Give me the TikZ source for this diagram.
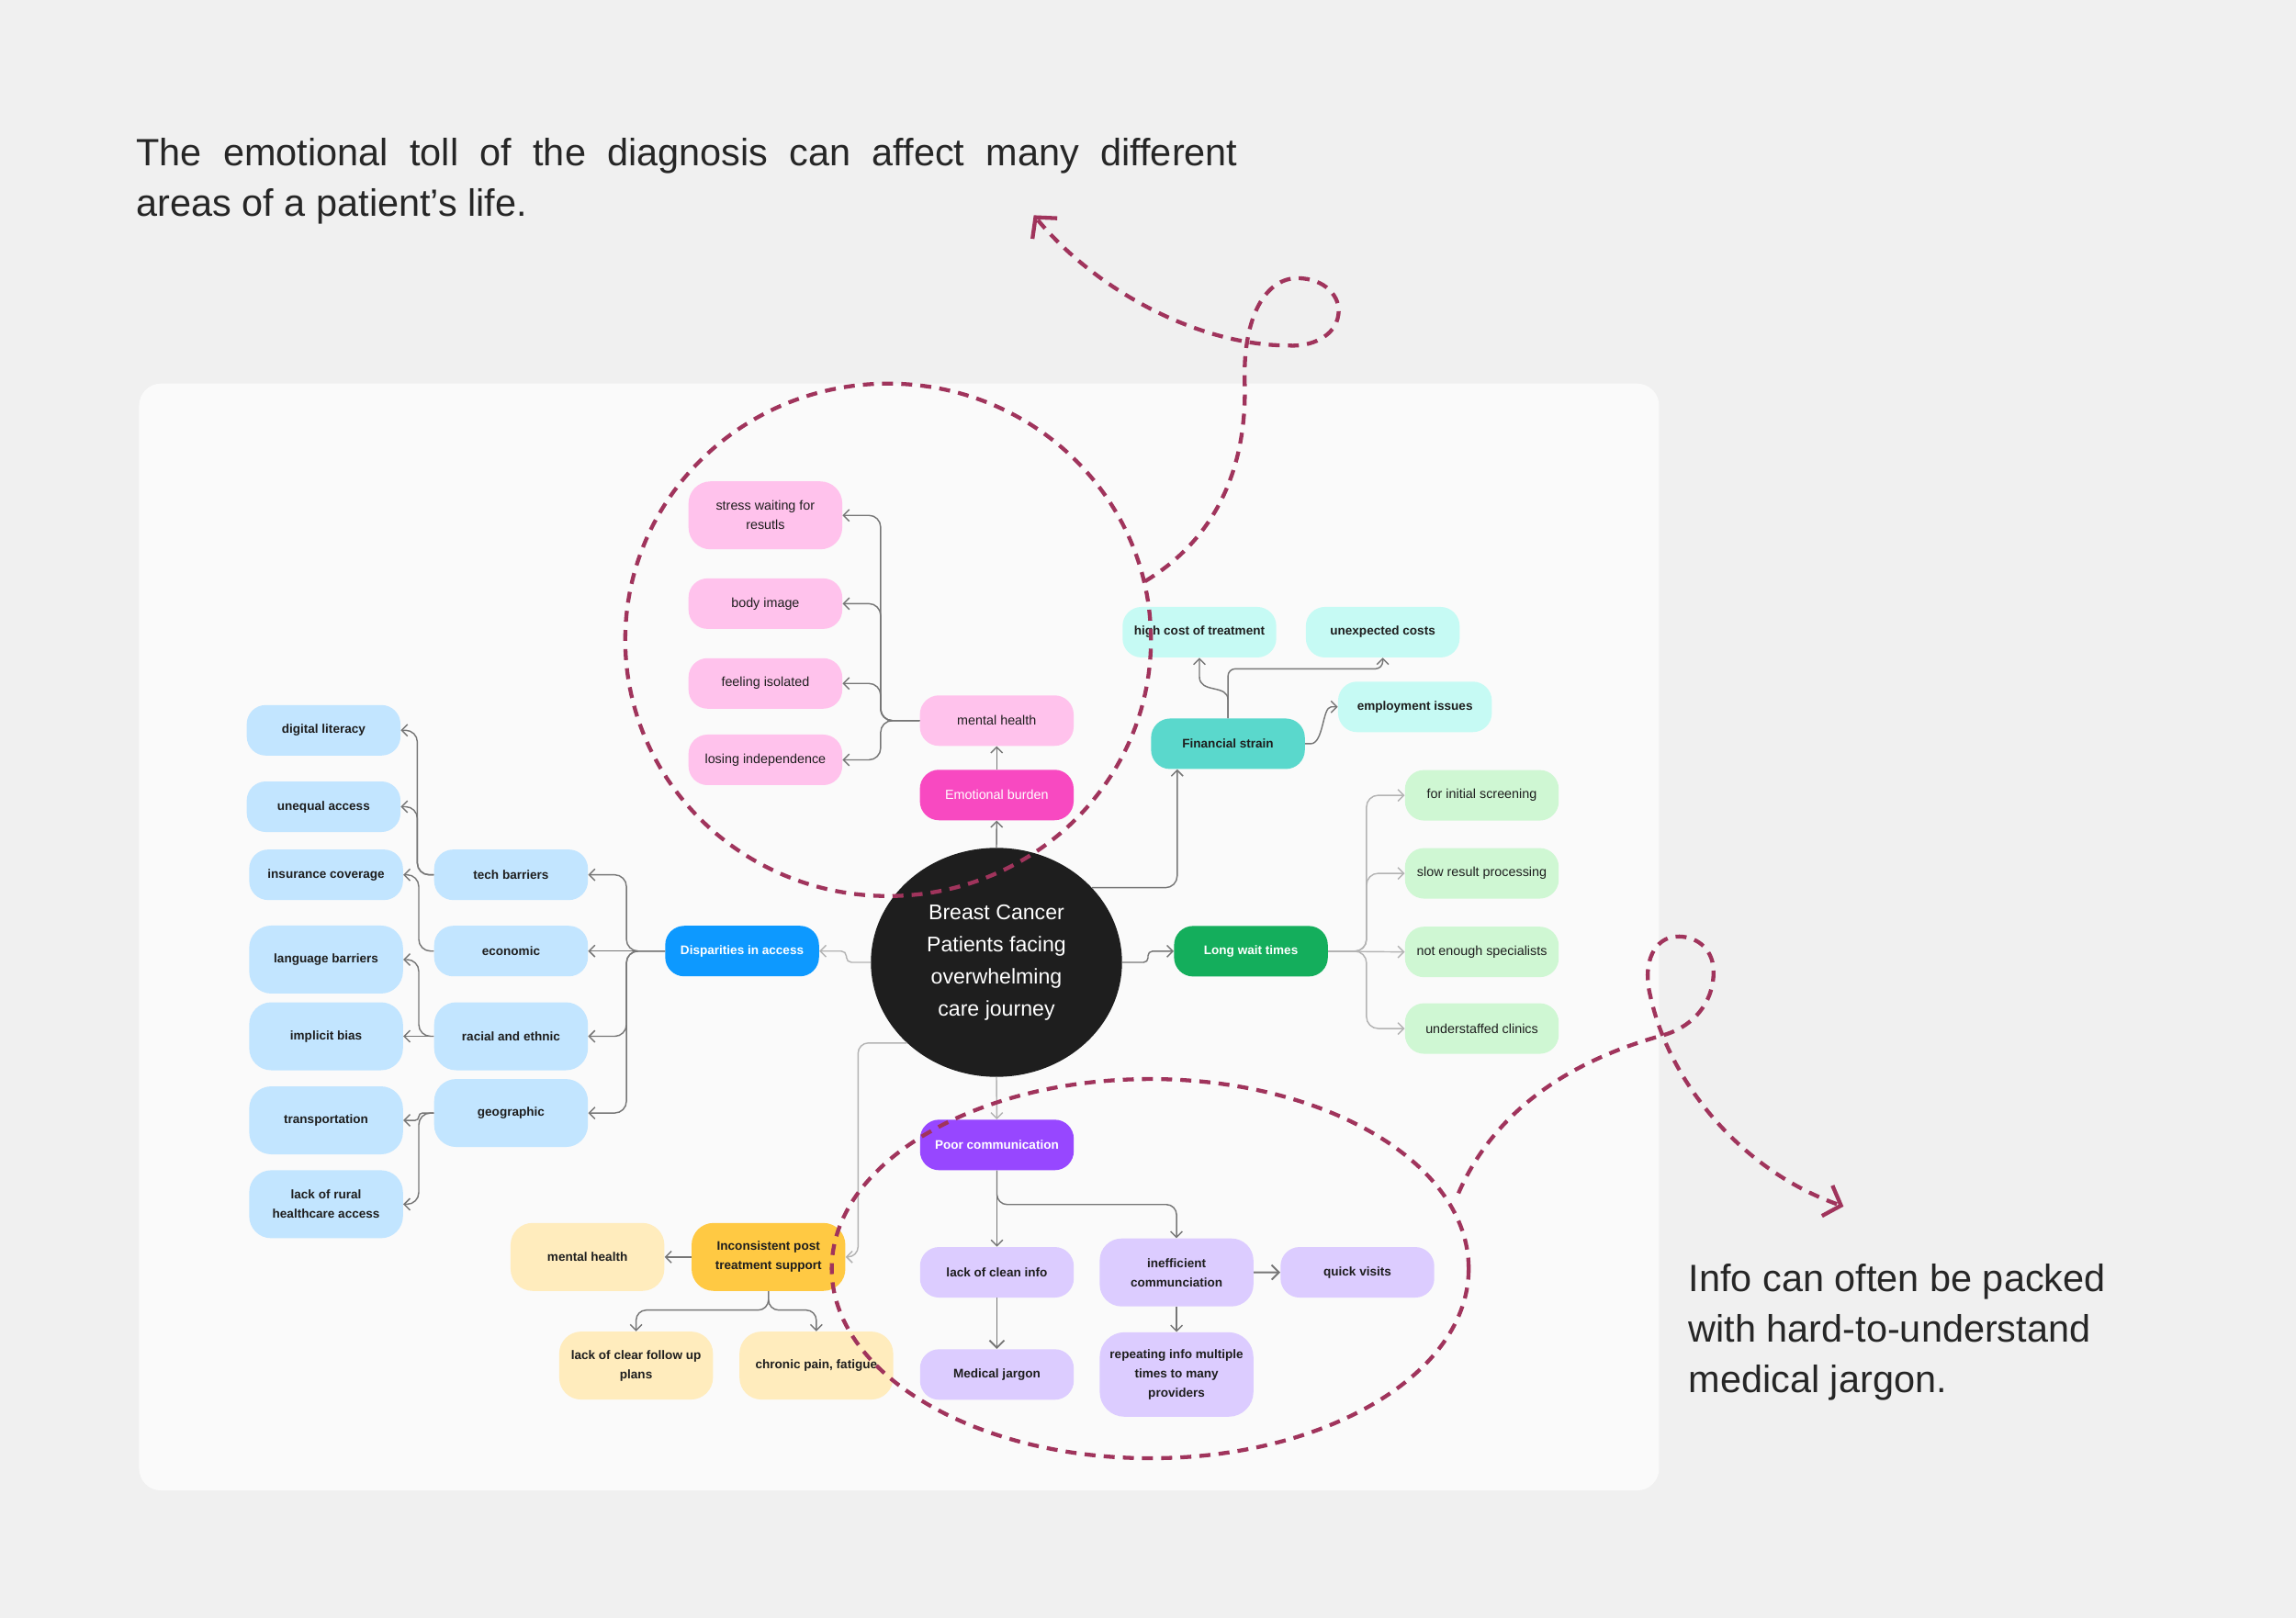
\documentclass[tikz,border=0pt]{standalone}
\usepackage{fontspec}
\setmainfont{Liberation Sans}
\usetikzlibrary{arrows.meta,shapes.geometric,calc}
\definecolor{pageBg}{HTML}{F0F0F0}
\definecolor{panelBg}{HTML}{FAFAFA}
\definecolor{ink}{HTML}{1E1E1E}
\definecolor{noteInk}{HTML}{262626}
\definecolor{lineDark}{HTML}{767676}
\definecolor{lineLight}{HTML}{B3B3B3}
\definecolor{annoRed}{HTML}{A0345C}
\definecolor{pinkL}{HTML}{FFC2EC}
\definecolor{magBox}{HTML}{F849C1}
\definecolor{cyanL}{HTML}{C6FAF4}
\definecolor{tealBox}{HTML}{5AD8CC}
\definecolor{greenD}{HTML}{14AE5C}
\definecolor{greenL}{HTML}{CFF7D3}
\definecolor{blueD}{HTML}{0D99FF}
\definecolor{blueL}{HTML}{C2E5FF}
\definecolor{purpD}{HTML}{9747FF}
\definecolor{purpL}{HTML}{DCCCFF}
\definecolor{yelD}{HTML}{FFC943}
\definecolor{yelL}{HTML}{FFECBD}
\definecolor{coreBg}{HTML}{1E1E1E}
\tikzset{
  box/.style={rounded corners=13pt, minimum width=105pt, minimum height=34.5pt, align=center, inner sep=2pt, text=ink},
  tall/.style={minimum height=46.4pt, rounded corners=15pt},
  regTxt/.style={font=\fontsize{9}{13.2}\selectfont},
  boldTxt/.style={font=\fontsize{8.5}{13.2}\selectfont\bfseries},
  nPink/.style={box, fill=pinkL, regTxt},
  nMag/.style={box, fill=magBox, regTxt, text=white},
  nCyan/.style={box, fill=cyanL, boldTxt},
  nTeal/.style={box, fill=tealBox, boldTxt},
  nGreenD/.style={box, fill=greenD, boldTxt, text=white},
  nGreenL/.style={box, fill=greenL, regTxt},
  nBlueD/.style={box, fill=blueD, boldTxt, text=white},
  nBlueL/.style={box, fill=blueL, boldTxt},
  nPurpD/.style={box, fill=purpD, boldTxt, text=white},
  nPurpL/.style={box, fill=purpL, boldTxt},
  nYelD/.style={box, fill=yelD, boldTxt},
  nYelL/.style={box, fill=yelL, boldTxt},
  link/.style={draw=lineDark, line width=0.9pt, -{Straight Barb[length=4pt,width=8pt]}},
  linkL/.style={link, draw=lineLight},
  linkB/.style={link, line width=1.2pt, -{Straight Barb[length=5pt,width=10pt]}},
  anno/.style={draw=annoRed, line width=2.7pt, dash pattern=on 7.5pt off 5.6pt},
  annoTip/.style={-{Straight Barb[length=10pt,width=22pt]}},
  note/.style={anchor=base west, inner sep=0pt, text=noteInk, font=\fontsize{26}{35}\selectfont}
}
\begin{document}
\begin{tikzpicture}[x=1pt,y=-1pt]
\fill[pageBg] (0,0) rectangle (1568,1105);
\useasboundingbox (0,0) rectangle (1568,1105);
\fill[panelBg, rounded corners=15pt] (95,262) rectangle (1133,1018);

% notes
\node[note] (t1) at (93,113) {\makebox[752pt][s]{The emotional toll of the diagnosis can affect many different}};
\node[note] (t2) at (93,148) {areas of a patient’s life.};
\node[note] (b1) at (1153,882) {Info can often be packed};
\node[note] (b2) at (1153,916.5) {with hard-to-understand};
\node[note] (b3) at (1153,951) {medical jargon.};

% center
\node[ellipse, fill=coreBg, minimum width=171.5pt, minimum height=156.4pt, inner sep=0pt, text=white, align=center, font=\fontsize{14.5}{22}\selectfont] (core) at (680.5,657.3) {Breast Cancer\\Patients facing\\overwhelming\\care journey};

% emotional
\node[nPink, tall] (stress) at (522.7,352) {stress waiting for\\resutls};
\node[nPink] (body) at (522.7,412.3) {body image};
\node[nPink] (isol) at (522.7,466.8) {feeling isolated};
\node[nPink] (indep) at (522.7,519) {losing independence};
\node[nPink] (mh) at (680.7,492.2) {mental health};
\node[nMag] (eb) at (680.7,543) {Emotional burden};

% financial
\node[nCyan] (hicost) at (819.1,431.8) {high cost of treatment};
\node[nCyan] (unexp) at (944.3,431.8) {unexpected costs};
\node[nCyan] (employ) at (966.3,482.8) {employment issues};
\node[nTeal] (fs) at (838.6,508) {Financial strain};

% wait times
\node[nGreenD] (lwt) at (854.3,649.7) {Long wait times};
\node[nGreenL] (g1) at (1012,543.2) {for initial screening};
\node[nGreenL] (g2) at (1012,596.5) {slow result processing};
\node[nGreenL] (g3) at (1012,650.2) {not enough specialists};
\node[nGreenL] (g4) at (1012,702.5) {understaffed clinics};

% disparities
\node[nBlueD] (disp) at (506.8,649.6) {Disparities in access};
\node[nBlueL] (tech) at (349,597.5) {tech barriers};
\node[nBlueL] (econ) at (349,649.6) {economic};
\node[nBlueL, tall] (racial) at (349,707.8) {racial and ethnic};
\node[nBlueL, tall] (geo) at (349,760.2) {geographic};
\node[nBlueL] (digital) at (221,498.8) {digital literacy};
\node[nBlueL] (unequal) at (221,551) {unequal access};
\node[nBlueL] (ins) at (222.7,597.5) {insurance coverage};
\node[nBlueL, tall] (lang) at (222.7,655.4) {language barriers};
\node[nBlueL, tall] (implicit) at (222.7,707.8) {implicit bias};
\node[nBlueL, tall] (trans) at (222.7,765.2) {transportation};
\node[nBlueL, tall] (rural) at (222.7,822.5) {lack of rural\\healthcare access};

% communication
\node[nPurpD] (poor) at (680.8,782) {Poor communication};
\node[nPurpL] (clean) at (680.8,869) {lack of clean info};
\node[nPurpL, tall] (ineff) at (803.5,869.1) {inefficient\\communciation};
\node[nPurpL] (quick) at (927,869) {quick visits};
\node[nPurpL] (jargon) at (680.8,938.8) {Medical jargon};
\node[nPurpL, minimum height=57.7pt, rounded corners=17pt] (repeat) at (803.5,938.8) {repeating info multiple\\times to many\\providers};

% post treatment
\node[nYelD, tall] (incons) at (524.8,858.5) {Inconsistent post\\treatment support};
\node[nYelL, tall] (ymh) at (401.2,858.5) {mental health};
\node[nYelL, tall] (follow) at (434.4,932.7) {lack of clear follow up\\plans};
\node[nYelL, tall] (chronic) at (557.5,932.7) {chronic pain, fatigue};

% connectors: emotional
\draw[link] (core.north) -- (eb.south);
\draw[link] (eb.north) -- (mh.south);
\foreach \t in {stress,body,isol,indep}
  \draw[link, rounded corners=8pt] (mh.west) -- (601.4,492.2) |- (\t.east);

% financial
\draw[link, rounded corners=8pt] (core.38) -| ($(fs.south west)!0.171!(fs.south east)$);
\draw[link] (fs.north) -- (838.6,478) .. controls (838.6,467) and (819,474) .. (819.1,462) -- (hicost.south);
\draw[link, rounded corners=5pt] (fs.north) -- (838.6,456.8) -| (unexp.south);
\draw[link] (fs.east) -- (895,508) .. controls (904,508) and (903,483) .. (909,482.8) -- (employ.west);

% wait times
\draw[link, rounded corners=3pt] (core.east) -| (784,649.7) -- (lwt.west);
\draw[linkL] (lwt.east) -- (g3.west);
\foreach \t in {g1,g2,g4}
  \draw[linkL, rounded corners=8pt] (lwt.east) -- (933.2,649.7) |- (\t.west);

% disparities
\draw[linkL, rounded corners=3.5pt] (core.west) -| (578,649.6) -- (disp.east);
\draw[link] (disp.west) -- (econ.east);
\foreach \t in {tech,racial,geo}
  \draw[link, rounded corners=8pt] (disp.west) -- (427.8,649.6) |- (\t.east);
\draw[link, rounded corners=8pt] (tech.west) -- (285,597.5) |- (digital.east);
\draw[link, rounded corners=8pt] (tech.west) -- (285,597.5) |- (unequal.east);
\draw[link, rounded corners=8pt] (econ.west) -- (286,649.6) |- (ins.east);
\draw[link, rounded corners=8pt] (racial.west) -- (286,707.8) |- (lang.east);
\draw[link] (racial.west) -- (implicit.east);
\draw[link, rounded corners=2.5pt] (geo.west) -- (286,760.2) |- (trans.east);
\draw[link, rounded corners=8pt] (geo.west) -- (286,760.2) |- (rural.east);

% communication
\draw[linkL] (core.south) -- (poor.north);
\draw[link] (poor.south) -- (clean.north);
\draw[link, rounded corners=7pt] (poor.south) -- (680.8,822.7) -| (ineff.north);
\draw[linkB] (clean.south) -- (jargon.north);
\draw[linkB] (ineff.east) -- (quick.west);
\draw[link] (ineff.south) -- (repeat.north);

% post treatment
\draw[linkL, rounded corners=7pt] (core.222) -| (586,858.5) -- (incons.east);
\draw[link] (incons.west) -- (ymh.east);
\draw[link, rounded corners=7pt] (incons.south) -- (524.8,894.8) -| (follow.north);
\draw[link, rounded corners=7pt] (incons.south) -- (524.8,894.8) -| (chronic.north);

% annotations
\draw[anno] (606.5,437) ellipse [x radius=179.5pt, y radius=175pt];
\draw[anno, annoTip] (782,397) .. controls (830,368) and (852,320) .. (850,260)
  .. controls (849,215) and (865,190) .. (886,190)
  .. controls (905,190) and (916,203) .. (914,215)
  .. controls (912,230) and (895,237) .. (880,236)
  .. controls (820,236) and (750,200) .. (706,147);
\draw[anno] (785.5,866.5) ellipse [x radius=217.5pt, y radius=129.5pt];
\draw[anno, annoTip] (996,815) .. controls (1020,760) and (1070,725) .. (1136,707)
  .. controls (1160,700) and (1172,680) .. (1170,660)
  .. controls (1168,645) and (1155,638) .. (1142,640)
  .. controls (1128,643) and (1122,660) .. (1127,680)
  .. controls (1140,740) and (1190,800) .. (1259,824);
\end{tikzpicture}
\end{document}
